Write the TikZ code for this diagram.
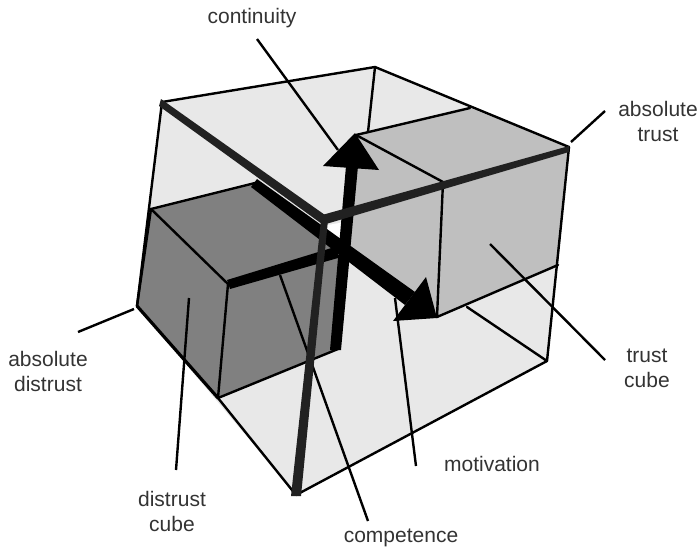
\documentclass[tikz,border=0pt]{standalone}
\usepackage{fontspec}
\setmainfont{Liberation Sans}
\definecolor{wall}{gray}{0.91}
\definecolor{trustgray}{gray}{0.75}
\definecolor{distrustgray}{gray}{0.5}
\definecolor{axisdark}{gray}{0.13}
\definecolor{labelgray}{gray}{0.2}
\tikzset{
  edgeline/.style={draw=black,line width=2.4pt,line cap=round,line join=round},
  heavyedge/.style={draw=black,line width=3.2pt,line cap=round},
  leader/.style={draw=black,line width=2.4pt},
  darkaxis/.style={fill=axisdark},
  blackaxis/.style={fill=black},
  lbl/.style={text=labelgray,font=\fontsize{21}{25}\selectfont,align=center,inner sep=0pt}
}
\begin{document}
\begin{tikzpicture}[x=1pt,y=-1pt]
\useasboundingbox (0,0) rectangle (700,552);
% corners of the outer cube
\coordinate (TL) at (162,102);
\coordinate (TB) at (375,67);
\coordinate (TR) at (569,147);
\coordinate (BR) at (547,361);
\coordinate (BF) at (296,495);
\coordinate (LL) at (137,306);
\coordinate (CC) at (323,218);
\coordinate (BI) at (368,132);
% trust cube
\coordinate (t1) at (356,135);
\coordinate (t2) at (470,108);
\coordinate (t3) at (443,182);
\coordinate (t4) at (437,317);
\coordinate (t5) at (558,265);
\coordinate (fb) at (467,307);
% distrust cube
\coordinate (d1) at (151,209);
\coordinate (d2) at (255,183);
\coordinate (d3) at (228,284);
\coordinate (d4) at (218,398);
\coordinate (d5) at (338,349);
\coordinate (d6) at (338,250);
% faces
\fill[wall] (TL)--(TB)--(TR)--(BR)--(BF)--(LL)--cycle;
\fill[white] (256,180)--(322,226)--(345,222)--(345,250)--(318,234)--cycle;
\fill[trustgray] (t1)--(t2)--(TR)--(t5)--(t4)--(345,243)--(352,180)--cycle;
\fill[distrustgray] (d1)--(d2)--(d6)--(d5)--(d4)--(LL)--cycle;
% thin edges
\draw[edgeline] (TL)--(TB)--(TR);
\draw[edgeline] (TB)--(BI);
\draw[edgeline] (TL)--(LL);
\draw[edgeline] (d4)--(BF)--(BR)--(TR);
\draw[edgeline] (fb)--(BR);
\draw[edgeline] (t1)--(t2);
\draw[edgeline] (t1)--(t3)--(t4)--(t5);
\draw[edgeline] (d1)--(d2);
\draw[edgeline] (d1)--(d3)--(d4)--(d5);
\draw[heavyedge] (LL)--(d4);
\draw[edgeline] (LL)--(d1);
% leader lines
\coordinate (c1) at (257,39); \coordinate (c2) at (338,150);
\draw[leader] (c1)--(c2);
\coordinate (at1) at (571,142); \coordinate (at2) at (605,111);
\draw[leader] (at1)--(at2);
\coordinate (ad1) at (134,309); \coordinate (ad2) at (78,332);
\draw[leader] (ad1)--(ad2);
\coordinate (dc1) at (189,298); \coordinate (dc2) at (176,470);
\draw[leader] (dc1)--(dc2);
\coordinate (cp1) at (280,275); \coordinate (cp2) at (368,521);
\draw[leader] (cp1)--(cp2);
\coordinate (m1) at (395,298); \coordinate (m2) at (416,466);
\draw[leader] (m1)--(m2);
\coordinate (tc1) at (490,244); \coordinate (tc2) at (605,360);
\draw[leader] (tc1)--(tc2);
% black axes and arrowheads
\fill[blackaxis] (257,179)--(251,187)--(405,305)--(415,292)--cycle;
\fill[blackaxis] (437,318)--(426,277)--(393,321)--cycle;
\fill[blackaxis] (227,280)--(230,289)--(338,258)--(338,246)--cycle;
\fill[blackaxis] (330,350)--(341,350)--(358,166)--(346,166)--cycle;
\fill[blackaxis] (355,133)--(323,166)--(379,170)--cycle;
% dark axes
\fill[darkaxis] (161,99)--(159,106)--(322,224)--(328,222)--(325,215)--cycle;
\fill[darkaxis] (322,215)--(326,224)--(569,152)--(569,146)--cycle;
\fill[darkaxis] (321,220)--(328,220)--(301,496)--(291,496)--cycle;
% labels
\node[lbl] (continuity) at (252,18) {continuity};
\node[lbl] (abstrust) at (658,121) {absolute\\trust};
\node[lbl] (absdistrust) at (48,371) {absolute\\distrust};
\node[lbl] (distrustcube) at (172,511) {distrust\\cube};
\node[lbl] (competence) at (401,538) {competence};
\node[lbl] (motivation) at (492,464) {motivation};
\node[lbl] (trustcube) at (647,368) {trust\\cube};
\end{tikzpicture}
\end{document}
